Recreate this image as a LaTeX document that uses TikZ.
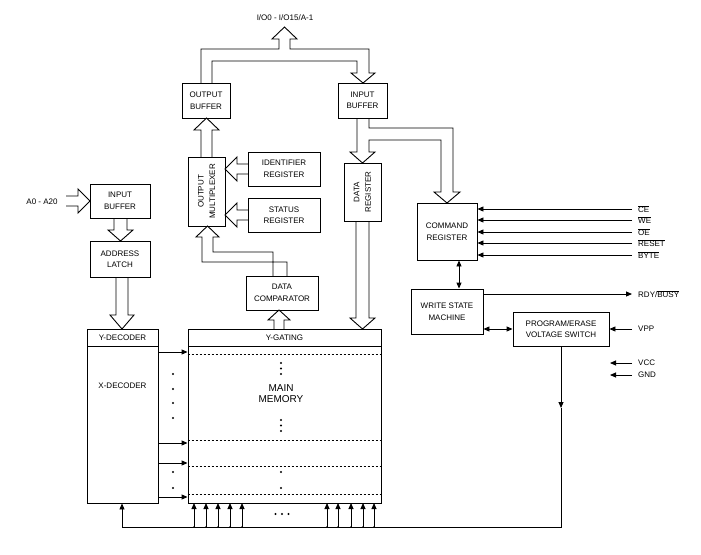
\documentclass[tikz,border=0pt]{standalone}
\usepackage{fontspec}
\setmainfont{Liberation Sans}
\usetikzlibrary{arrows.meta,calc}
\newcommand{\ovl}[1]{\ensuremath{\overline{\hbox{#1}}}}
\begin{document}
\begin{tikzpicture}[x=1pt,y=-1pt,
  font=\fontsize{8}{11.5}\selectfont,
  box/.style={draw, line width=0.9pt, inner sep=0pt, align=center},
  bus/.style={line width=0.9pt, line join=miter},
  arr/.style={line width=0.9pt, -{Triangle[length=6pt,width=5pt]}},
  darr/.style={line width=0.9pt, {Triangle[length=6pt,width=5pt]}-{Triangle[length=6pt,width=5pt]}},
  lbl/.style={anchor=west, inner sep=0pt},
  dot/.style={fill, circle, inner sep=0pt, minimum size=2.4pt},
  jdot/.style={fill, circle, inner sep=0pt, minimum size=1.8pt},
  rowline/.style={line width=0.8pt, dash pattern=on 2pt off 2pt},
]
\useasboundingbox (0,0) rectangle (701,554);
\fill[white] (0,0) rectangle (701,554);

% ---------- boxes ----------
\node[box, minimum width=48pt, minimum height=35pt] (obuf) at (206,100.5) {OUTPUT\\BUFFER};
\node[box, minimum width=49pt, minimum height=35pt] (ibuf) at (362.5,100.5) {INPUT\\BUFFER};
\node[box, rotate=90, minimum width=69pt, minimum height=37pt] (omux) at (206.5,191.5) {OUTPUT\\MULTIPLEXER};
\node[box, minimum width=72pt, minimum height=34pt] (idreg) at (284,169) {IDENTIFIER\\REGISTER};
\node[box, minimum width=72pt, minimum height=34pt] (streg) at (284,215) {STATUS\\REGISTER};
\node[box, minimum width=72pt, minimum height=34pt] (dcomp) at (282,293) {DATA\\COMPARATOR};
\node[box, rotate=90, minimum width=58pt, minimum height=37pt] (dreg) at (362.5,192) {DATA\\REGISTER};
\node[box, minimum width=60pt, minimum height=57pt] (cmd) at (447,231.5) {COMMAND\\REGISTER};
\node[box, minimum width=72pt, minimum height=45pt] (wsm) at (447,311.5) {WRITE STATE\\MACHINE};
\node[box, minimum width=96pt, minimum height=34pt] (pes) at (561,329) {PROGRAM/ERASE\\VOLTAGE SWITCH};
\node[box, minimum width=60pt, minimum height=34pt] (ainbuf) at (120,201) {INPUT\\BUFFER};
\node[box, minimum width=60pt, minimum height=36pt] (alatch) at (120,259) {ADDRESS\\LATCH};
\node[box, minimum width=71pt, minimum height=17pt] (ydec) at (122.5,337.5) {Y-DECODER};
\node[box, minimum width=71pt, minimum height=157pt] (xdec) at (122.5,424.5) {};
\node at (122.5,386) {X-DECODER};
\node[box, minimum width=193pt, minimum height=17pt] (ygate) at (284.5,337.5) {Y-GATING};
\node[box, minimum width=193pt, minimum height=157pt] (mem) at (284.5,424.5) {};
\node[align=center, font=\fontsize{10}{11}\selectfont] (memlbl) at (281,393.5) {MAIN\\MEMORY};

% ---------- labels ----------
\node (io) at (285,18) {I/O0 - I/O15/A-1};
\node (addr) at (42,202) {A0 - A20};

% ---------- hollow bus arrows ----------
% top I/O bus
\draw[bus] (201,83) -- (201,49) -- (279,49) -- (279,39) -- (272,39) -- (284.5,27) -- (297,39) -- (290,39)
  -- (290,49) -- (369,49) -- (369,73) -- (375,73) -- (363,83) -- (351,73) -- (357,73) -- (357,61)
  -- (212,61) -- (212,83);
% output mux -> output buffer
\draw[bus] (201,157) -- (201,130) -- (194,130) -- (206.5,118) -- (219,130) -- (212,130) -- (212,157);
% identifier register -> output mux
\draw[bus] (248,164) -- (237,164) -- (237,157) -- (225,169) -- (237,181) -- (237,174) -- (248,174);
% status register -> output mux
\draw[bus] (248,210) -- (237,210) -- (237,203) -- (225,215) -- (237,227) -- (237,220) -- (248,220);
% data comparator -> output mux
\draw[bus] (287,276) -- (287,262) -- (202,262) -- (202,237) -- (196,237) -- (207.5,226) -- (219,237)
  -- (213,237) -- (213,252) -- (273,252) -- (273,276);
% Y-gating -> data comparator
\draw[bus] (274,329) -- (274,320) -- (268,320) -- (279,310) -- (290,320) -- (284,320) -- (284,329);
% input buffer -> data register and command register
\draw[bus] (357,118) -- (357,152) -- (350,152) -- (362.5,163) -- (375,152) -- (369,152) -- (369,140)
  -- (441,140) -- (441,192) -- (434,192) -- (447,203) -- (460,192) -- (453,192) -- (453,128)
  -- (369,128) -- (369,118);
% data register -> Y-gating
\draw[bus] (356,221) -- (356,318) -- (350,318) -- (362.5,329) -- (375,318) -- (369,318) -- (369,221);
% A0-A20 -> input buffer
\draw[bus] (66,196) -- (78,196) -- (78,189) -- (90,201) -- (78,213) -- (78,206) -- (66,206);
% input buffer -> address latch
\draw[bus] (114,218) -- (114,230) -- (108,230) -- (120.5,241) -- (133,230) -- (127,230) -- (127,218);
% address latch -> Y-decoder
\draw[bus] (116,277) -- (116,315) -- (110,315) -- (122,329) -- (134,315) -- (128,315) -- (128,277);

% ---------- control signals ----------
\foreach \nm/\yy/\tx in {ce/209/\ovl{CE}, we/220/\ovl{WE}, oe/232/\ovl{OE}, rst/243/\ovl{RESET}, byte/255/\ovl{BYTE}}{
  \coordinate (\nm) at (632,\yy);
  \node[lbl] (\nm lbl) at (638,\yy) {\tx};
  \draw[arr] (\nm) -- (\nm -| cmd.east);
}
\draw[darr] (cmd.south -| 459,0) -- (wsm.north -| 459,0);
\coordinate (rdy) at (632,294);
\node[lbl] (rdylbl) at (638,294) {RDY/\ovl{BUSY}};
\draw[arr] (wsm.east |- rdy) -- (rdy);
\draw[darr] (wsm.east |- pes.west) -- (pes.west);
\coordinate (vpp) at (632,329);
\node[lbl] (vpplbl) at (638,329) {VPP};
\draw[arr] (vpp) -- (pes.east);
\coordinate (vcc) at (632,363);
\node[lbl] (vcclbl) at (638,363) {VCC};
\draw[arr] (vcc) -- (610,363);
\coordinate (gnd) at (632,375);
\node[lbl] (gndlbl) at (638,375) {GND};
\draw[arr] (gnd) -- (610,375);

% ---------- voltage line to array ----------
\coordinate (vmid) at (561,408);
\coordinate (vcorner) at (561,527);
\coordinate (lcorner) at (122,527);
\draw[arr] (pes.south) -- (vmid);
\draw[arr] (vmid) -- (vcorner) -- (lcorner) -- (lcorner |- xdec.south);
\foreach \xx in {194,206,218,230,242,327,338,351,363,374}{
  \node[jdot] (j\xx) at (\xx,527) {};
  \draw[arr] (j\xx.center) -- (\xx,503);
}
\foreach \xx in {275.5,282,288.5}{
  \node[dot] at (\xx,514) {};
}

% ---------- word-line arrows ----------
\foreach \yy in {352,443,463,497}{
  \draw[arr] (xdec.east |- 0,\yy) -- (mem.west |- 0,\yy);
}
\foreach \yy in {374,389,403,418,472,488}{
  \node[dot] at (173,\yy) {};
}
\foreach \yy in {363,368.5,374,420,425.5,431,472,488}{
  \node[dot] at (281,\yy) {};
}
\foreach \yy in {354,440,466,494}{
  \draw[rowline] (mem.west |- 0,\yy) -- (mem.east |- 0,\yy);
}
\end{tikzpicture}
\end{document}
